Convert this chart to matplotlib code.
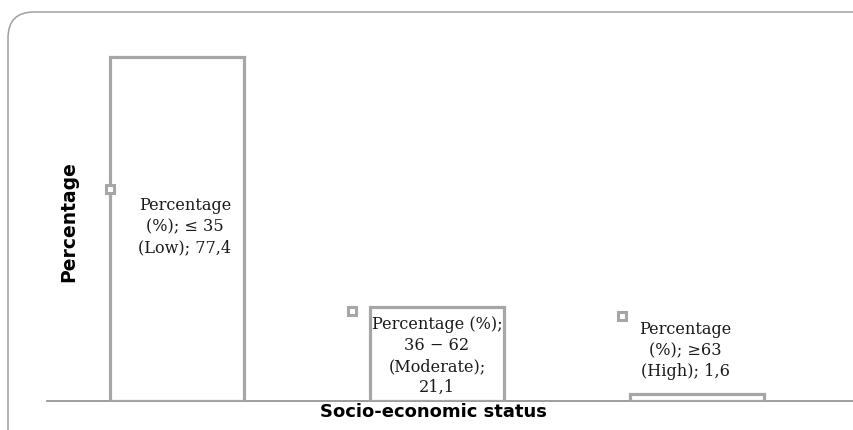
import matplotlib
matplotlib.use("Agg")
import matplotlib.pyplot as plt
from matplotlib.patches import FancyBboxPatch

# socio-economic status groups and their share of respondents
categories = ["Low", "Moderate", "High"]
ranges = ["\u2264 35", "36 \u2212 62", "\u226563"]
values = [77.4, 21.1, 1.6]
value_labels = ["77,4", "21,1", "1,6"]

label_texts = [
    "Percentage\n(%); {}\n({}); {}".format(ranges[0], categories[0], value_labels[0]),
    "Percentage (%);\n{}\n({});\n{}".format(ranges[1], categories[1], value_labels[1]),
    "Percentage\n(%); {}\n({}); {}".format(ranges[2], categories[2], value_labels[2]),
]
# label anchor (x offset from bar centre, y in data units) and key marker offsets
label_pos = [(0.03, 39.2), (0.0, 10.1), (-0.046, 11.3)]
key_pos = [(-0.258, 47.7), (-0.327, 20.25), (-0.288, 19.1)]

edge = "#a6a6a6"

fig = plt.figure(figsize=(8.54, 4.30), dpi=100)

# rounded chart-area border (runs off the right and bottom edges)
frame = FancyBboxPatch((8, -30), 880, 448, boxstyle="round,pad=0,rounding_size=26",
                       transform=None, fill=False, edgecolor="#a0a0a0", linewidth=1.1)
fig.patches.append(frame)

ax = fig.add_axes([0.055, 0.0674, 0.945, 0.8628])
xs = list(range(len(values)))
ax.bar(xs, values, width=0.515, color="white", edgecolor=edge, linewidth=2.3, zorder=2)

for i, txt in enumerate(label_texts):
    dx, y = label_pos[i]
    ax.text(xs[i] + dx, y, txt, ha="center", va="center", family="DejaVu Serif",
            fontsize=11.6, color="#1a1a1a", linespacing=1.3, zorder=4)
    kx, ky = key_pos[i]
    ax.plot(xs[i] + kx, ky, marker="s", markersize=6, markerfacecolor="white",
            markeredgecolor=edge, markeredgewidth=2.2, zorder=5, clip_on=False)

ax.set_xlim(-0.5, 2.604)
ax.set_ylim(0, 83.5)
for side in ["top", "right", "left"]:
    ax.spines[side].set_visible(False)
ax.spines["bottom"].set_color("#8c8c8c")
ax.spines["bottom"].set_linewidth(1.2)
ax.spines["bottom"].set_zorder(1)
ax.set_xticks([])
ax.set_yticks([])

ax.set_xlabel("Socio-economic status", fontsize=13, fontweight="bold",
              family="DejaVu Sans", labelpad=0)
ax.xaxis.set_label_coords(0.479, -0.004)
ax.xaxis.label.set_va("top")
ax.set_ylabel("Percentage", fontsize=13.5, fontweight="bold", family="DejaVu Sans")
ax.yaxis.set_label_coords(0.0265, 0.485)
ax.yaxis.label.set_va("center")

fig.savefig("out.png", dpi=100)
